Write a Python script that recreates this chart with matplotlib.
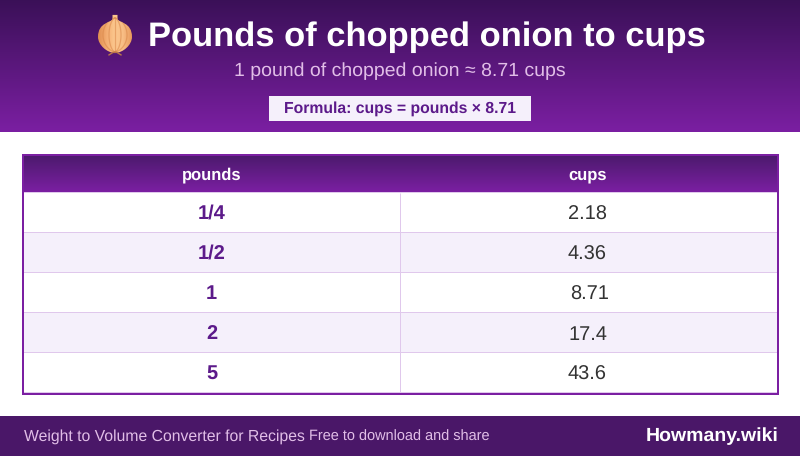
import numpy as np
import matplotlib
matplotlib.use("Agg")
import matplotlib.pyplot as plt
from matplotlib.colors import LinearSegmentedColormap
from matplotlib.patches import PathPatch, Rectangle
from matplotlib.path import Path

plt.rcParams["font.family"] = ["Liberation Sans", "DejaVu Sans"]
plt.rcParams["text.hinting"] = "no_hinting"

title = "Pounds of chopped onion to cups"
subtitle = "1 pound of chopped onion ≈ 8.71 cups"
formula = "Formula: cups = pounds × 8.71"
columns = ["pounds", "cups"]
pounds = ["1/4", "1/2", "1", "2", "5"]
cups = ["2.18", "4.36", "8.71", "17.4", "43.6"]
footer_left = "Weight to Volume Converter for Recipes"
footer_mid = "Free to download and share"
footer_right = "Howmany.wiki"

DARK = "#3a1057"
MID = "#4a1a6b"
PURPLE = "#7b1fa2"
TEXT_PURPLE = "#5c1a8a"
PALE = "#f5f0fb"
LINE = "#e0c8ec"


def px(size):
    # font size given in pixels of the 100 dpi figure
    return size * 0.72


def gradient(ax, x0, x1, y0, y1, top, bottom):
    cmap = LinearSegmentedColormap.from_list("g", [top, bottom])
    ax.imshow(np.linspace(0, 1, 256).reshape(-1, 1), cmap=cmap, aspect="auto",
              extent=(x0, x1, y1, y0), zorder=1, interpolation="bilinear")


def draw_onion(ax, cx, cy):
    # no emoji font here, so the icon is built from patches
    verts = [(cx - 2.5, cy - 19), (cx + 2.5, cy - 19), (cx + 2.5, cy - 15),
             (cx + 3.5, cy - 11), (cx + 17, cy - 12), (cx + 17, cy + 3),
             (cx + 17, cy + 11), (cx + 8, cy + 19), (cx, cy + 19),
             (cx - 8, cy + 19), (cx - 17, cy + 11), (cx - 17, cy + 3),
             (cx - 17, cy - 12), (cx - 3.5, cy - 11), (cx - 2.5, cy - 15),
             (cx - 2.5, cy - 19)]
    codes = [Path.MOVETO, Path.LINETO, Path.LINETO] + [Path.CURVE4] * 12 + [Path.LINETO]
    shape = PathPatch(Path(verts, codes), fc="none", ec="none", zorder=3)
    ax.add_patch(shape)
    cmap = LinearSegmentedColormap.from_list(
        "onion", ["#e08f52", "#f4ae72", "#fcc88f", "#f8bd84", "#e89a5c"])
    im = ax.imshow(np.linspace(0, 1, 64).reshape(1, -1), cmap=cmap, aspect="auto",
                   extent=(cx - 17, cx + 17, cy + 19, cy - 19), zorder=3)
    im.set_clip_path(shape)
    t = np.linspace(-1, 1, 40)
    for bend in [-12, -6, 0, 6, 12]:
        line, = ax.plot(cx + bend * (1 - t ** 2) ** 0.6, cy + 1 + 17 * t, color="#d9874a",
                        lw=0.9, alpha=0.55, zorder=4)
        line.set_clip_path(shape)
    ax.plot([cx - 6, cx - 2, cx + 2, cx + 6], [cy + 21, cy + 18.5, cy + 18.5, cy + 21],
            color="#b9774a", lw=1, zorder=4)


fig = plt.figure(figsize=(8, 4.561), dpi=100, facecolor="white")
ax = fig.add_axes([0, 0, 1, 1])

# header band
gradient(ax, 0, 800, 0, 132, DARK, PURPLE)
draw_onion(ax, 115, 34)
ax.text(427, 46, title, color="white", fontsize=px(34.5), fontweight="bold",
        ha="center", va="baseline", zorder=5)
ax.text(400, 76, subtitle, color="#e1bee7", fontsize=px(19.5), ha="center",
        va="baseline", zorder=5)
ax.add_patch(Rectangle((269, 96), 262, 25, fc=PALE, ec="none", zorder=4))
ax.text(400.5, 113, formula, color=TEXT_PURPLE, fontsize=px(15.7), fontweight="bold",
        ha="center", va="baseline", zorder=5)

# table
left, right, top, bottom = 23, 778, 155, 394
head_bottom = 192
split = 400
row_h = 40
gradient(ax, left, right, top, head_bottom, MID, PURPLE)
for col, x in zip(columns, [211.5, 588]):
    ax.text(x, 179.5, col, color="white", fontsize=px(16.5), fontweight="bold",
            ha="center", va="baseline", zorder=5)

ax.plot([left, right], [head_bottom + 0.5] * 2, color=LINE, lw=0.72, zorder=3,
        solid_capstyle="butt")
for i, (lb, cup) in enumerate(zip(pounds, cups)):
    y0 = head_bottom + i * row_h
    if i % 2 == 1:
        ax.add_patch(Rectangle((left, y0 + 1), right - left, row_h - 1, fc=PALE, ec="none",
                               zorder=2))
    ax.plot([left, right], [y0 + row_h + 0.5] * 2, color=LINE, lw=0.72, zorder=3,
            solid_capstyle="butt")
    ax.text(211.5, y0 + 27, lb, color=TEXT_PURPLE, fontsize=px(20), fontweight="bold",
            ha="center", va="baseline", zorder=5)
    # the 8.71 row sits a touch further right in the original
    x_cup = 589.5 if cup == "8.71" else 587.5
    ax.text(x_cup, y0 + 27.5, cup, color="#333333", fontsize=px(20),
            ha="center", va="baseline", zorder=5)
ax.plot([split, split], [head_bottom + 1, bottom - 1], color=LINE, lw=0.72, zorder=3,
        solid_capstyle="butt")
ax.add_patch(Rectangle((left, top), right - left, bottom - top, fc="none", ec=PURPLE,
                       lw=1.44, zorder=6))

# footer band
ax.add_patch(Rectangle((0, 416), 800, 40, fc="#4a1768", ec="none", zorder=2))
ax.text(24, 441, footer_left, color="#e1bee7", fontsize=px(15.8), ha="left",
        va="baseline", zorder=5)
ax.text(309, 441, footer_mid, color="#e1bee7", fontsize=px(14.5), ha="left",
        va="baseline", zorder=5)
ax.text(778.5, 441, footer_right, color="white", fontsize=px(19.5), fontweight="bold", ha="right",
        va="baseline", zorder=5)

ax.set_xlim(0, 800)
ax.set_ylim(456, 0)
ax.axis("off")
fig.savefig("out.png", dpi=100)
